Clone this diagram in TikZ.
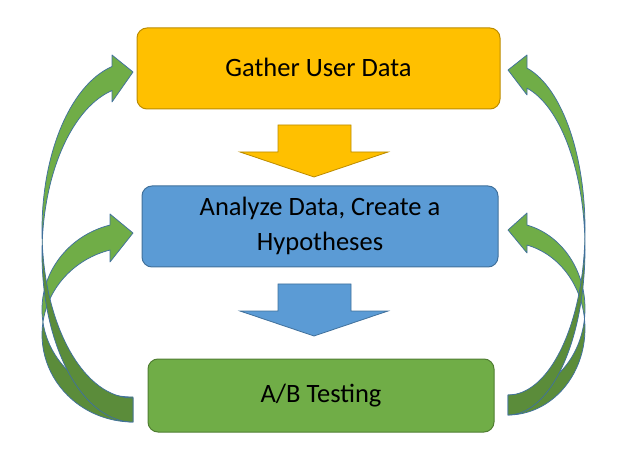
\documentclass[tikz,border=0pt]{standalone}
\usepackage{fontspec}
\setmainfont{Carlito}
\usetikzlibrary{calc}
\definecolor{gold}{HTML}{FFC000}
\definecolor{goldline}{HTML}{BC8C00}
\definecolor{blu}{HTML}{5B9BD5}
\definecolor{bluline}{HTML}{41719C}
\definecolor{grn}{HTML}{70AD47}
\definecolor{grnline}{HTML}{507E32}
\definecolor{grndark}{HTML}{5B8C3A}
\begin{document}
\begin{tikzpicture}[x=1pt,y=1pt,
  box/.style={rounded corners=10pt, line width=1pt, inner sep=0pt, align=center,
    font=\fontsize{26.5}{35}\selectfont, text=black},
  blockarrow/.style={line width=0.8pt, line join=miter},
  bandlight/.style={fill=grn, draw=bluline, line width=0.75pt, line join=round},
  banddark/.style={fill=grndark, draw=bluline, line width=0.75pt, line join=round}]
\useasboundingbox (0,0) rectangle (631,466);

% boxes
\node[box, fill=gold, draw=goldline, minimum width=363pt, minimum height=81pt] (gather) at (318.5,397.5) {\raisebox{3pt}{Gather User Data}};
\node[box, fill=blu, draw=bluline, minimum width=356pt, minimum height=81pt] (analyze) at (320,239.5) {\raisebox{-3pt}{\begin{tabular}{@{}c@{}}Analyze Data, Create a\\Hypotheses\end{tabular}}};
\node[box, fill=grn, draw=grnline, minimum width=346pt, minimum height=73pt] (abtest) at (321,70.5) {\raisebox{3pt}{A/B Testing}};

% block arrows between boxes
\draw[blockarrow, fill=gold, draw=goldline] (278,341) -- (351,341) -- (351,314) -- (388,314) -- (314,289) -- (240,314) -- (278,314) -- cycle;
\draw[blockarrow, fill=blu, draw=bluline] (278,182) -- (351,182) -- (351,155) -- (388,155) -- (314,130) -- (240,155) -- (278,155) -- cycle;

% ellipse centres of the curved arrows
\coordinate (lt1) at (133,236);   \coordinate (lb1) at (133,212);
\coordinate (lt2) at (133,156.4); \coordinate (lb2) at (133,131.4);
\coordinate (rt1) at (508,237);   \coordinate (rb1) at (508,217);
\coordinate (rt2) at (508,157.3); \coordinate (rb2) at (508,137.3);

% left curved arrow to Analyze
\path[banddark] ($(lb2)+(171.8:91pt and 87.4pt)$) arc[start angle=171.8, end angle=270, x radius=91pt, y radius=87.4pt]
  -- ($(lt2)+(270:91pt and 87.4pt)$) arc[start angle=270, end angle=188.2, x radius=91pt, y radius=87.4pt] -- cycle;
\path[bandlight] ($(lt2)+(104.6:91pt and 87.4pt)$) arc[start angle=104.6, end angle=188.2, x radius=91pt, y radius=87.4pt]
  -- ($(lb2)+(171.8:91pt and 87.4pt)$) arc[start angle=171.8, end angle=104.6, x radius=91pt, y radius=87.4pt]
  -- (110,204) -- (133,233) -- (110,252) -- cycle;

% left curved arrow to Gather
\path[banddark] ($(lb1)+(175.9:91pt and 168pt)$) arc[start angle=175.9, end angle=270, x radius=91pt, y radius=168pt]
  -- ($(lt1)+(270:91pt and 168pt)$) arc[start angle=270, end angle=184.1, x radius=91pt, y radius=168pt] -- cycle;
\path[bandlight] ($(lt1)+(103.3:91pt and 168pt)$) arc[start angle=103.3, end angle=184.1, x radius=91pt, y radius=168pt]
  -- ($(lb1)+(175.9:91pt and 168pt)$) arc[start angle=175.9, end angle=103.3, x radius=91pt, y radius=168pt]
  -- (112,364) -- (133,394) -- (112,411) -- cycle;

% right curved arrow to Analyze
\path[banddark] ($(rb2)+(6.65:77pt and 86.3pt)$) arc[start angle=6.65, end angle=-90, x radius=77pt, y radius=86.3pt]
  -- ($(rt2)+(-90:77pt and 86.3pt)$) arc[start angle=-90, end angle=-6.65, x radius=77pt, y radius=86.3pt] -- cycle;
\path[bandlight] ($(rt2)+(75.7:77pt and 86.3pt)$) arc[start angle=75.7, end angle=-6.65, x radius=77pt, y radius=86.3pt]
  -- ($(rb2)+(6.65:77pt and 86.3pt)$) arc[start angle=6.65, end angle=75.7, x radius=77pt, y radius=86.3pt]
  -- (527,213) -- (508,236) -- (527,253) -- cycle;

% right curved arrow to Gather
\path[banddark] ($(rb1)+(3.45:77pt and 166pt)$) arc[start angle=3.45, end angle=-90, x radius=77pt, y radius=166pt]
  -- ($(rt1)+(-90:77pt and 166pt)$) arc[start angle=-90, end angle=-3.45, x radius=77pt, y radius=166pt] -- cycle;
\path[bandlight] ($(rt1)+(75.7:77pt and 166pt)$) arc[start angle=75.7, end angle=-3.45, x radius=77pt, y radius=166pt]
  -- ($(rb1)+(3.45:77pt and 166pt)$) arc[start angle=3.45, end angle=75.7, x radius=77pt, y radius=166pt]
  -- (527,371) -- (508,396) -- (527,411) -- cycle;
\end{tikzpicture}
\end{document}
